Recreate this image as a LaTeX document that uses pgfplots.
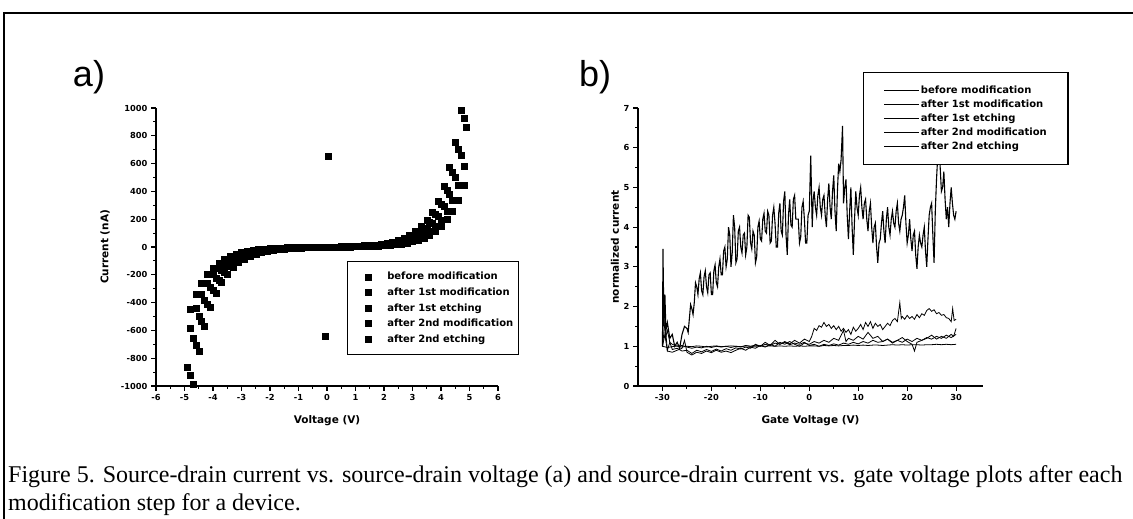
\documentclass[border=0pt]{standalone}
\usepackage{fontspec}
\setmainfont{Liberation Serif}
\setsansfont{Liberation Sans}
\newfontfamily\dvs{DejaVu Sans}
\usepackage{graphicx}
\usepackage{pgfplots}
\pgfplotsset{compat=1.18}
\pgfplotsset{
  origin/.style={
    scale only axis,
    axis lines=left,
    axis line style={-, line width=1.5pt, black},
    tick align=outside,
    major tick length=5pt,
    minor tick length=3pt,
    every tick/.style={line width=1.1pt, black},
    tick label style={font=\dvs\bfseries\fontsize{8.3}{9}\selectfont, black},
    label style={font=\dvs\bfseries\fontsize{10.5}{12}\selectfont, black},
    /pgf/number format/assume math mode=true,
    /pgf/number format/1000 sep={},
    legend cell align=left,
  },
  sq/.style={black, only marks, mark=square*, mark size=3pt, mark options={line width=0.4pt}},
  ln/.style={black, line width=0.8pt, mark=none},
}
\begin{document}
\begin{tikzpicture}[x=1pt,y=1pt]
\useasboundingbox (0,0) rectangle (1133,519);
\fill[white] (0,0) rectangle (1133,519);
\draw[line width=2pt] (4,0) -- (4,506) -- (1133,506);

\node[font=\sffamily\fontsize{36}{36}\selectfont] at (89,442) {a)};
\node[font=\sffamily\fontsize{36}{36}\selectfont] at (595,442) {b)};

\node[anchor=base west, align=left, font=\fontsize{24}{27}\selectfont, inner sep=0pt] at (8,36)
  {Figure 5. Source-drain current vs. source-drain voltage (a) and source-drain current vs. gate voltage plots after each};
\node[anchor=base west, align=left, font=\fontsize{24}{27}\selectfont, inner sep=0pt] at (8,8)
  {modification step for a device.};

% ---------------- a) ----------------
\begin{axis}[origin,
  at={(156pt,133pt)}, anchor=south west,
  width=342pt, height=278pt,
  xmin=-6, xmax=6, ymin=-1000, ymax=1000,
  xtick={-6,-5,...,6}, minor x tick num=1,
  ytick={-1000,-800,...,1000}, minor y tick num=1,
  xlabel={Voltage (V)}, ylabel={Current (nA)},
  xlabel style={at={(axis description cs:0.5,-0.126)}, anchor=center},
  ylabel style={at={(axis description cs:-0.149,0.5)}, anchor=center},
  legend style={at={(0.558,0.45)}, anchor=north west, draw=black, line width=1.5pt, fill=white,
    font=\dvs\bfseries\fontsize{10}{11}\selectfont, inner xsep=4pt, inner ysep=9.5pt, row sep=4.1pt,
    nodes={inner sep=1.2pt}},
  legend image code/.code={\path (-16pt,0pt) (17pt,0pt); \draw[#1] plot coordinates {(0pt,0pt)};},
]
% before modification
\addplot[sq] coordinates {
(-4.8,-923.9)(-4.6,-703.9)(-4.4,-536.2)(-4.2,-408.5)(-4.0,-311.0)(-3.8,-237.1)(-3.6,-180.6)(-3.4,-137.4)(-3.2,-104.8)(-3.0,-79.9)(-2.8,-60.8)(-2.6,-46.3)(-2.4,-35.3)(-2.2,-26.8)(-2.0,-20.4)(-1.8,-15.5)(-1.6,-11.7)(-1.4,-8.9)(-1.2,-6.6)(-1.0,-4.9)(-0.8,-3.6)(-0.6,-2.5)(-0.4,-1.5)(-0.2,-0.7)(0,0)
(0.2,0.7)(0.4,1.5)(0.6,2.5)(0.8,3.6)(1.0,4.9)(1.2,6.6)(1.4,8.9)(1.6,11.7)(1.8,15.5)(2.0,20.4)(2.2,26.8)(2.4,35.3)(2.6,46.3)(2.8,60.8)(3.0,79.9)(3.2,104.8)(3.4,137.4)(3.6,180.6)(3.8,237.1)(4.0,311.0)(4.2,408.5)(4.4,536.2)(4.6,703.9)(4.8,923.9)
};
% after 1st modification
\addplot[sq] coordinates {
(-4.9,-862.4)(-4.7,-656.9)(-4.5,-500.5)(-4.3,-381.3)(-4.1,-290.4)(-3.9,-221.3)(-3.7,-168.5)(-3.5,-128.5)(-3.3,-97.9)(-3.1,-74.6)(-2.9,-56.8)(-2.7,-43.3)(-2.5,-32.9)(-2.3,-25.1)(-2.1,-19.1)(-1.9,-14.5)(-1.7,-11.0)(-1.5,-8.3)(-1.3,-6.3)(-1.1,-4.7)(-0.9,-3.4)(-0.7,-2.4)(-0.5,-1.6)(-0.3,-0.9)(-0.1,-0.3)(-0.05,-645)
(0.1,0.3)(0.3,0.9)(0.5,1.6)(0.7,2.4)(0.9,3.4)(1.1,4.7)(1.3,6.3)(1.5,8.3)(1.7,11.0)(1.9,14.5)(2.1,19.1)(2.3,25.1)(2.5,32.9)(2.7,43.3)(2.9,56.8)(3.1,74.6)(3.3,97.9)(3.5,128.5)(3.7,168.5)(3.9,221.3)(4.1,290.4)(4.3,381.3)(4.5,500.5)(4.7,656.9)(4.9,862.4)
};
% after 1st etching
\addplot[sq] coordinates {
(-4.8,-581.7)(-4.6,-443.2)(-4.4,-337.6)(-4.2,-257.2)(-4.0,-195.8)(-3.8,-149.3)(-3.6,-113.7)(-3.4,-86.5)(-3.2,-66.0)(-3.0,-50.3)(-2.8,-38.3)(-2.6,-29.2)(-2.4,-22.2)(-2.2,-16.9)(-2.0,-12.9)(-1.8,-9.8)(-1.6,-7.4)(-1.4,-5.6)(-1.2,-4.2)(-1.0,-3.1)(-0.8,-2.2)(-0.6,-1.6)(-0.4,-1.0)(-0.2,-0.5)(0,0)
(0.2,0.5)(0.4,1.0)(0.6,1.6)(0.8,2.2)(1.0,3.1)(1.2,4.2)(1.4,5.6)(1.6,7.4)(1.8,9.8)(2.0,12.9)(2.2,16.9)(2.4,22.2)(2.6,29.2)(2.8,38.3)(3.0,50.3)(3.2,66.0)(3.4,86.5)(3.6,113.7)(3.8,149.3)(4.0,195.8)(4.2,257.2)(4.4,337.6)(4.6,443.2)(4.8,581.7)
};
% after 2nd modification
\addplot[sq] coordinates {
(-4.7,-985.4)(-4.5,-750.8)(-4.3,-571.9)(-4.1,-435.6)(-3.9,-332.0)(-3.7,-252.8)(-3.5,-192.7)(-3.3,-146.9)(-3.1,-111.9)(-2.9,-85.1)(-2.7,-64.9)(-2.5,-49.4)(-2.3,-37.6)(-2.1,-28.6)(-1.9,-21.7)(-1.7,-16.5)(-1.5,-12.5)(-1.3,-9.4)(-1.1,-7.0)(-0.9,-5.1)(-0.7,-3.6)(-0.5,-2.4)(-0.3,-1.4)(-0.1,-0.5)(0.05,650)
(0.1,0.5)(0.3,1.4)(0.5,2.4)(0.7,3.6)(0.9,5.1)(1.1,7.0)(1.3,9.4)(1.5,12.5)(1.7,16.5)(1.9,21.7)(2.1,28.6)(2.3,37.6)(2.5,49.4)(2.7,64.9)(2.9,85.1)(3.1,111.9)(3.3,146.9)(3.5,192.7)(3.7,252.8)(3.9,332.0)(4.1,435.6)(4.3,571.9)(4.5,750.8)(4.7,985.4)
};
% after 2nd etching
\addplot[sq] coordinates {
(-4.8,-444.9)(-4.6,-338.9)(-4.4,-258.2)(-4.2,-196.7)(-4.0,-149.8)(-3.8,-114.1)(-3.6,-87.0)(-3.4,-66.2)(-3.2,-50.4)(-3.0,-38.5)(-2.8,-29.3)(-2.6,-22.3)(-2.4,-17.0)(-2.2,-12.9)(-2.0,-9.8)(-1.8,-7.5)(-1.6,-5.7)(-1.4,-4.3)(-1.2,-3.2)(-1.0,-2.4)(-0.8,-1.7)(-0.6,-1.2)(-0.4,-0.7)(-0.2,-0.4)(0,0)
(0.2,0.4)(0.4,0.7)(0.6,1.2)(0.8,1.7)(1.0,2.4)(1.2,3.2)(1.4,4.3)(1.6,5.7)(1.8,7.5)(2.0,9.8)(2.2,12.9)(2.4,17.0)(2.6,22.3)(2.8,29.3)(3.0,38.5)(3.2,50.4)(3.4,66.2)(3.6,87.0)(3.8,114.1)(4.0,149.8)(4.2,196.7)(4.4,258.2)(4.6,338.9)(4.8,444.9)
};
\legend{before modification, after 1st modification, after 1st etching, after 2nd modification, after 2nd etching}
\end{axis}

% ---------------- b) ----------------
\begin{axis}[origin,
  at={(638pt,133pt)}, anchor=south west,
  width=345pt, height=278pt,
  xmin=-35, xmax=35.5, ymin=0, ymax=7,
  xtick={-30,-20,...,30}, minor x tick num=1,
  ytick={0,1,...,7}, minor y tick num=1,
  xlabel={Gate Voltage (V)}, ylabel={normalized current},
  xlabel style={at={(axis description cs:0.5,-0.126)}, anchor=center},
  ylabel style={at={(axis description cs:-0.067,0.5)}, anchor=center},
  legend style={at={(0.652,1.13)}, anchor=north west, draw=black, line width=1.5pt, fill=white,
    font=\dvs\bfseries\fontsize{10}{11}\selectfont, inner xsep=20pt, inner ysep=12pt, row sep=2.6pt,
    nodes={inner sep=1.2pt}},
  legend image code/.code={\draw[line width=1pt] (0pt,0pt) -- (35pt,0pt);},
]
% before modification
\addplot[ln] coordinates {
(-30,1.00)(-29,0.97)(-28,0.99)(-27,1.01)(-26,0.98)(-25,1.00)(-24,0.99)(-23,1.01)(-22,1.00)(-21,0.98)(-20,1.00)(-19,1.01)(-18,0.99)(-17,1.00)(-16,1.01)(-15,1.00)(-14,0.99)(-13,1.01)(-12,1.00)(-11,1.00)(-10,1.01)(-9,1.00)(-8,1.01)(-7,1.00)(-6,1.01)(-5,1.00)(-4,1.01)(-3,1.00)(-2,1.01)(-1,1.00)(0,1.01)(1,1.01)(2,1.00)(3,1.02)(4,1.01)(5,1.02)(6,1.01)(7,1.02)(8,1.02)(9,1.03)(10,1.02)(11,1.03)(12,1.02)(13,1.03)(14,1.03)(15,1.02)(16,1.03)(17,1.04)(18,1.03)(19,1.04)(20,1.03)(21,1.04)(22,1.04)(23,1.03)(24,1.04)(25,1.04)(26,1.05)(27,1.04)(28,1.05)(29,1.04)(30,1.05)
};
% after 1st modification
\addplot[ln] coordinates {
(-30,1.00)(-29.5,1.6)(-29,0.9)(-28.5,1.1)(-28,0.92)(-27,0.95)(-26,0.88)(-25,0.9)(-24,0.82)(-23,0.9)(-22,0.86)(-21,0.92)(-20,0.87)(-19,0.93)(-18,0.88)(-17,0.94)(-16,0.9)(-15,0.96)(-14,0.93)(-13,0.98)(-12,0.95)(-11,1.05)(-10,1.0)(-9,1.1)(-8,1.02)(-7,1.15)(-6,1.05)(-5,1.12)(-4,1.06)(-3,1.15)(-2,1.08)(-1,1.18)(0,1.12)(0.5,1.25)(1,1.45)(1.5,1.4)(2,1.52)(2.5,1.48)(3,1.6)(3.5,1.5)(4,1.55)(4.5,1.45)(5,1.52)(5.5,1.42)(6,1.5)(6.5,1.38)(7,1.45)(7.5,1.35)(8,1.42)(8.5,1.3)(9,1.48)(9.5,1.38)(10,1.45)(10.5,1.55)(11,1.42)(11.5,1.6)(12,1.5)(12.5,1.62)(13,1.45)(13.5,1.58)(14,1.5)(14.5,1.55)(15,1.42)(15.5,1.5)(16,1.58)(16.5,1.52)(17,1.65)(17.5,1.7)(18,1.62)(18.5,2.1)(18.8,1.7)(19,1.75)(19.5,1.68)(20,1.78)(20.5,1.7)(21,1.75)(21.5,1.68)(22,1.8)(22.5,1.72)(23,1.82)(23.5,1.78)(24,1.9)(24.5,1.95)(25,1.88)(25.5,1.92)(26,1.82)(26.5,1.85)(27,1.78)(27.5,1.8)(28,1.72)(28.5,1.7)(29,1.62)(29.3,1.95)(29.6,1.65)(30,1.68)
};
% after 1st etching
\addplot[ln] coordinates {
(-30,1.0)(-29.5,1.3)(-29,0.88)(-28,0.85)(-27,0.9)(-26,0.95)(-25.5,1.15)(-25,0.85)(-24,0.78)(-23,0.85)(-22,0.82)(-21,0.88)(-20,0.84)(-19,0.9)(-18,0.85)(-17,0.88)(-16,0.84)(-15,0.9)(-14,0.95)(-13,0.9)(-12,0.98)(-11,0.95)(-10,1.02)(-9,0.98)(-8,1.05)(-7,1.0)(-6,1.1)(-5,1.05)(-4,1.12)(-3,1.05)(-2,1.0)(-1,1.08)(0,1.05)(1,1.12)(2,1.08)(3,1.15)(4,1.1)(5,1.2)(6,1.15)(7,1.4)(7.5,1.12)(8,1.2)(9,1.15)(10,1.25)(11,1.18)(12,1.35)(13,1.2)(14,1.25)(15,1.12)(16,1.18)(17,1.08)(18,1.15)(19,1.22)(20,1.12)(21,1.05)(21.5,0.88)(22,1.1)(23,1.15)(24,1.2)(25,1.28)(26,1.18)(27,1.25)(28,1.2)(29,1.3)(29.5,1.25)(30,1.45)
};
% after 2nd modification
\addplot[ln, line width=1.1pt] coordinates {
(-30.0,1.0)(-29.9,3.45)(-29.7,1.5)(-29.5,2.3)(-29.3,1.4)(-29.0,1.6)(-28.5,1.2)(-28.0,1.3)(-27.5,1.0)(-27.0,1.1)(-26.5,0.95)(-26.0,1.3)(-25.5,1.5)
(-25.0,1.45)(-24.75,1.35)(-24.5,1.7)(-24.25,2.05)(-24.0,1.95)(-23.75,1.8)(-23.5,2.1)(-23.25,2.6)(-23.0,2.5)(-22.75,2.3)(-22.5,2.7)(-22.25,2.85)(-22.0,2.4)(-21.75,2.3)(-21.5,2.75)(-21.25,2.9)(-21.0,2.5)(-20.75,2.35)(-20.5,2.8)(-20.25,2.85)(-20.0,2.3)(-19.75,2.3)(-19.5,2.9)(-19.25,3.05)(-19.0,2.6)(-18.75,2.5)(-18.5,3.0)(-18.25,3.2)(-18.0,2.8)(-17.75,2.8)(-17.5,3.4)(-17.25,3.5)(-17.0,3.0)(-16.75,3.2)(-16.5,4.0)(-16.25,3.8)(-16.0,3.0)(-15.75,3.35)(-15.5,4.3)(-15.25,4.0)(-15.0,3.1)(-14.75,3.2)(-14.5,3.9)(-14.25,4.0)(-14.0,3.5)(-13.75,3.35)(-13.5,3.8)(-13.25,3.85)(-13.0,3.3)(-12.75,3.5)(-12.5,4.3)(-12.25,4.25)(-12.0,3.6)(-11.75,3.45)(-11.5,3.9)(-11.25,3.8)(-11.0,3.1)(-10.75,3.25)(-10.5,4.0)(-10.25,4.15)(-10.0,3.7)(-9.75,3.65)(-9.5,4.2)(-9.25,4.35)(-9.0,3.9)(-8.75,3.85)(-8.5,4.4)(-8.25,4.3)(-8.0,3.6)(-7.75,3.65)(-7.5,4.3)(-7.25,4.5)(-7.0,4.1)(-6.75,3.5)(-6.5,3.5)(-6.25,4.35)(-6.0,4.6)(-5.75,3.9)(-5.5,3.8)(-5.25,4.65)(-5.0,4.9)(-4.75,3.8)(-4.5,3.3)(-4.25,4.3)(-4.0,4.7)(-3.75,4.05)(-3.5,4.0)(-3.25,4.7)(-3.0,4.8)(-2.75,4.2)(-2.5,4.2)(-2.25,4.2)(-2.0,3.6)(-1.75,3.75)(-1.5,4.5)(-1.25,4.65)(-1.0,4.2)(-0.75,3.6)(-0.5,3.6)(-0.25,4.3)
(0.0,4.4)(0.3,5.8)(0.6,4.0)(0.8,4.7)(1.0,4.9)(1.25,4.5)(1.5,4.3)(1.75,4.8)(2.0,5.0)(2.25,4.5)(2.5,4.3)(2.75,4.7)(3.0,4.8)(3.25,4.3)(3.5,4.0)(3.75,4.7)(4.0,5.1)(4.25,4.5)(4.5,4.2)(4.75,4.9)(5.0,5.3)(5.25,4.4)(5.5,3.9)(5.75,4.9)(6.0,5.6)(6.25,5.4)(6.5,5.7)(6.8,6.55)(7.0,4.6)(7.25,5.0)(7.5,5.2)(7.75,4.3)(8.0,3.7)(8.25,4.4)(8.5,5.0)(8.75,4.0)(9.0,3.3)(9.25,4.2)(9.5,4.9)(9.75,4.5)(10.0,4.3)(10.25,4.8)(10.5,5.0)(10.75,4.5)(11.0,4.2)(11.25,4.6)(11.5,4.7)(11.75,4.2)(12.0,3.9)(12.25,4.4)(12.5,4.6)(12.75,4.0)(13.0,3.6)(13.25,4.0)(13.5,4.1)(13.75,3.5)(14.0,3.1)(14.25,3.6)(14.5,3.7)(14.75,4.1)(15.0,4.4)(15.25,3.9)(15.5,3.6)(15.75,4.2)(16.0,4.5)(16.25,4.0)(16.5,3.8)(16.75,4.2)(17.0,4.4)(17.25,4.1)(17.5,4.0)(17.75,4.4)(18.0,4.6)(18.25,4.1)(18.5,3.9)(18.75,4.2)(19.0,4.3)(19.25,4.5)(19.5,4.8)(19.75,4.1)(20.0,3.6)(20.25,3.8)(20.5,4.2)(20.75,3.7)(21.0,3.4)(21.25,3.8)(21.5,3.9)(21.75,3.3)(22.0,2.95)(22.25,3.5)(22.5,3.8)(22.75,3.6)(23.0,3.5)(23.25,3.8)(23.5,4.0)(23.75,3.4)(24.0,3.0)(24.25,3.7)(24.5,4.3)(24.75,4.5)(25.0,4.6)(25.25,3.8)(25.5,3.1)(25.75,4.4)(26.0,5.2)(26.25,5.8)(26.5,6.4)(26.75,5.5)(27.0,4.9)(27.25,5.0)(27.5,5.4)(27.75,4.7)(28.0,4.2)(28.25,4.5)(28.5,4.0)(28.75,4.6)(29.0,5.0)(29.25,4.6)(29.5,4.3)(29.75,4.2)(30.0,4.4)
};
% after 2nd etching
\addplot[ln] coordinates {
(-30,1.0)(-29.7,2.3)(-29.4,1.2)(-29,1.4)(-28.5,1.1)(-28,1.05)(-27,1.0)(-26,1.02)(-25,0.98)(-24,0.95)(-23,0.98)(-22,0.96)(-21,1.0)(-20,0.97)(-19,1.0)(-18,0.98)(-17,1.0)(-16,0.97)(-15,1.0)(-14,0.98)(-13,1.02)(-12,1.0)(-11,1.03)(-10,1.0)(-9,1.05)(-8,1.02)(-7,1.08)(-6,1.05)(-5,1.1)(-4,1.04)(-3,1.08)(-2,1.05)(-1,1.1)(0,1.02)(1,1.05)(2,1.0)(3,1.05)(4,1.02)(5,1.06)(6,1.03)(7,1.08)(8,1.05)(9,1.1)(10,1.06)(11,1.12)(12,1.08)(13,1.15)(14,1.1)(15,1.12)(16,1.18)(17,1.1)(18,1.15)(19,1.1)(20,1.18)(21,1.12)(22,1.2)(23,1.15)(24,1.22)(25,1.18)(26,1.25)(27,1.2)(28,1.28)(29,1.22)(30,1.3)
};
\legend{before modification, after 1st modification, after 1st etching, after 2nd modification, after 2nd etching}
\end{axis}
\end{tikzpicture}
\end{document}
